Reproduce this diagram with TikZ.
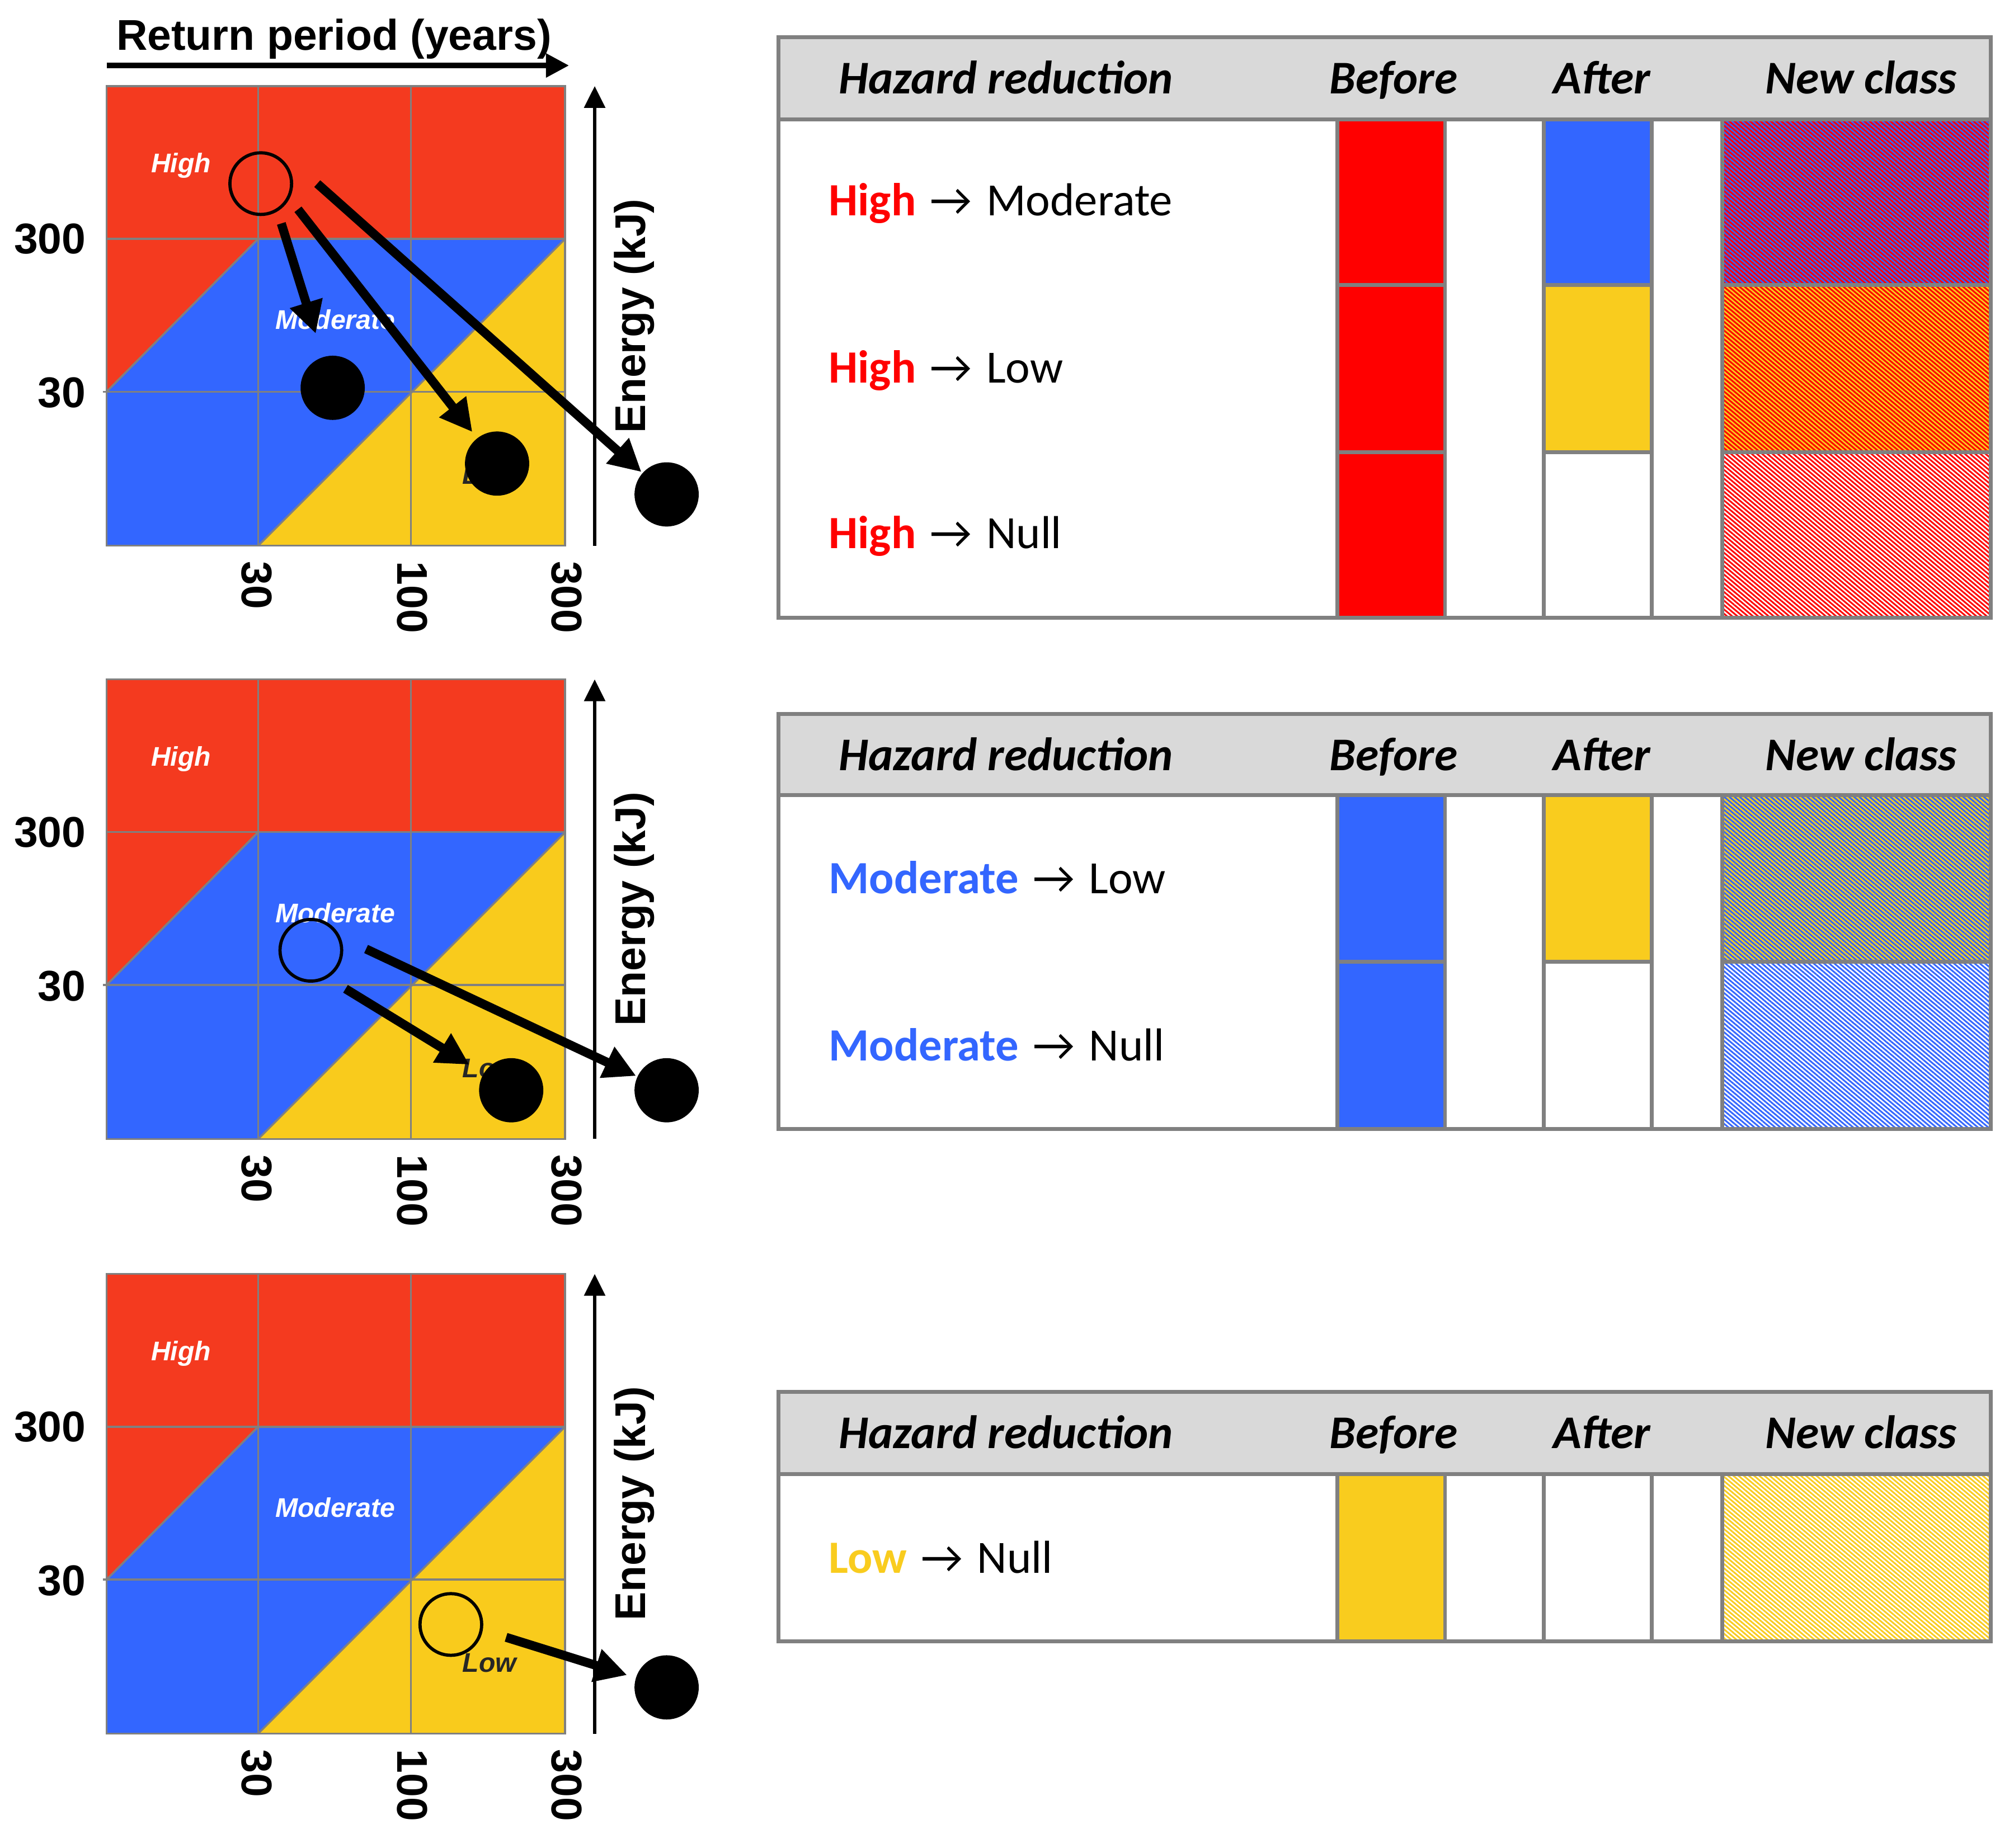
\documentclass[tikz,border=0pt]{standalone}
\usepackage{fontspec}
\setmainfont{Carlito}
\newfontfamily\arialf{Liberation Sans}
\usetikzlibrary{arrows.meta,patterns.meta}
\definecolor{chred}{RGB}{244,58,31}
\definecolor{chblue}{RGB}{51,102,255}
\definecolor{chyel}{RGB}{249,203,28}
\definecolor{tred}{RGB}{255,0,0}
\definecolor{tblue}{RGB}{51,102,255}
\definecolor{tyel}{RGB}{249,204,30}
\definecolor{hdrgray}{RGB}{217,217,217}
\definecolor{bordgray}{RGB}{128,128,128}
\newcommand{\harr}{\hspace{3pt} → \hspace{3pt}}
\tikzset{
  gridln/.style={draw=bordgray, line width=1.5pt},
  chlbl/.style={font=\arialf\bfseries\itshape\fontsize{21}{25}\selectfont, text=white, inner sep=0pt},
  lowlbl/.style={font=\arialf\bfseries\itshape\fontsize{21}{25}\selectfont, text=black!85, inner sep=0pt},
  axnum/.style={font=\arialf\bfseries\fontsize{33.5}{40}\selectfont, inner sep=0pt},
  axarr/.style={line width=3pt, -{Triangle[length=17pt,width=16pt]}},
  toparr/.style={line width=4pt, -{Triangle[length=18pt,width=18pt]}},
  ring/.style={circle, draw=black, line width=2.5pt, minimum size=48pt, inner sep=0pt},
  blackdot/.style={circle, fill=black, minimum size=50pt, inner sep=0pt},
  bigarr/.style={line width=7pt, -{Triangle[length=25pt,width=25pt]}},
  tline/.style={draw=bordgray, line width=3pt},
  hatch/.style={pattern={Lines[angle=-40,distance=2.6pt,line width=1.3pt]}},
  hdrtxt/.style={font=\bfseries\itshape\fontsize{36.5}{44}\selectfont, inner sep=0pt, anchor=base},
  rowtxt/.style={font=\fontsize{36}{43}\selectfont, inner sep=0pt, anchor=base west}
}
\newcommand{\hzchart}[1]{%
  \fill[chred] (83,67) rectangle (440,186);
  \fill[chred] (83,186) -- (201,186) -- (83,305) -- cycle;
  \fill[chblue] (83,305) -- (201,186) -- (440,186) -- (201,425) -- (83,425) -- cycle;
  \fill[chyel] (201,425) -- (440,186) -- (440,425) -- cycle;
  \draw[gridln] (83,67) rectangle (440,425);
  \draw[gridln] (201,67) -- (201,425) (320,67) -- (320,425);
  \draw[gridln] (83,186) -- (440,186) (80,305) -- (440,305);
  \draw[gridln] (83,305) -- (201,186) (201,425) -- (440,186);
  \node[chlbl] (#1hi) at (141,129) {High};
  \node[chlbl] (#1mo) at (261,249) {Moderate};
  \node[lowlbl] (#1lo) at (381,370) {Low};
  \node[axnum, anchor=east] (#1y300) at (67,186) {300};
  \node[axnum, anchor=east] (#1y30) at (67,306) {30};
  \node[axnum, rotate=-90, anchor=west] (#1x30) at (200,437) {30};
  \node[axnum, rotate=-90, anchor=west] (#1x100) at (321,437) {100};
  \node[axnum, rotate=-90, anchor=west] (#1x300) at (441,437) {300};
  \coordinate (#1eb) at (463,425);
  \coordinate (#1et) at (463,67);
  \draw[axarr] (#1eb) -- (#1et);
  \node[axnum, rotate=90] (#1en) at (494,246) {Energy (kJ)};
}
\begin{document}
\begin{tikzpicture}[x=1pt,y=-1pt]
\useasboundingbox (0,0) rectangle (1568,1439);
\fill[white] (0,0) rectangle (1568,1439);

% ---------------- chart 1
\node[axnum, anchor=base] (rp) at (260,39) {Return period (years)};
\coordinate (rpl) at (83,51);
\coordinate (rpr) at (443,51);
\draw[toparr] (rpl) -- (rpr);
\begin{scope}
  \hzchart{a}
  \node[ring] (asrc) at (203,143) {};
  \node[blackdot] (ad1) at (259,302) {};
  \node[blackdot] (ad2) at (387,361) {};
  \node[blackdot] (ad3) at (519,385) {};
  \coordinate (aa1) at (219,174);
  \coordinate (aa2) at (232,163);
  \coordinate (aa3) at (247,143);
  \draw[bigarr, shorten >=19pt] (aa1) -- (ad1);
  \draw[bigarr, shorten >=6pt] (aa2) -- (ad2);
  \draw[bigarr, shorten >=1pt] (aa3) -- (ad3);
\end{scope}

% ---------------- chart 2
\begin{scope}[shift={(0,462)}]
  \hzchart{b}
  \node[ring] (bsrc) at (242,278) {};
  \node[blackdot] (bd1) at (398,387) {};
  \node[blackdot] (bd2) at (519,387) {};
  \coordinate (ba1) at (269,308);
  \coordinate (ba2) at (285,277);
  \draw[bigarr, shorten >=13pt] (ba1) -- (bd1);
  \draw[bigarr, shorten >=1pt] (ba2) -- (bd2);
\end{scope}

% ---------------- chart 3
\begin{scope}[shift={(0,925)}]
  \hzchart{c}
  \node[ring] (csrc) at (351,340) {};
  \node[blackdot] (cd1) at (519,389) {};
  \coordinate (ca1) at (394,350);
  \draw[bigarr, shorten >=7pt] (ca1) -- (cd1);
\end{scope}

% ---------------- table 1
\fill[hdrgray] (606,29) rectangle (1550,93);
\fill[tred] (1041,93) rectangle (1125,481);
\fill[tblue] (1202,93) rectangle (1286,222);
\fill[tyel] (1202,222) rectangle (1286,352);
\fill[tblue] (1341,93) rectangle (1550,222);
\fill[hatch, pattern color=tred] (1341,93) rectangle (1550,222);
\fill[tyel] (1341,222) rectangle (1550,352);
\fill[hatch, pattern color=tred] (1341,222) rectangle (1550,352);
\fill[hatch, pattern color=tred] (1341,352) rectangle (1550,481);
\draw[tline] (1041,93) -- (1041,481) (1125,93) -- (1125,481)
             (1202,93) -- (1202,481) (1286,93) -- (1286,481) (1341,93) -- (1341,481);
\draw[tline] (1041,222) -- (1125,222) (1202,222) -- (1286,222) (1341,222) -- (1550,222);
\draw[tline] (1041,352) -- (1125,352) (1202,352) -- (1286,352) (1341,352) -- (1550,352);
\draw[tline] (606,29) rectangle (1550,481);
\draw[tline] (606,93) -- (1550,93);
\node[hdrtxt, anchor=base west] (t1h1) at (653,73) {Hazard reduction};
\node[hdrtxt] (t1h2) at (1085,73) {Before};
\node[hdrtxt] (t1h3) at (1247,73) {After};
\node[hdrtxt] (t1h4) at (1449,73) {New class};
\node[rowtxt] (t1r1) at (645,168) {\textcolor{tred}{\bfseries High}\harr{}Moderate};
\node[rowtxt] (t1r2) at (645,298) {\textcolor{tred}{\bfseries High}\harr{}Low};
\node[rowtxt] (t1r3) at (645,427) {\textcolor{tred}{\bfseries High}\harr{}Null};

% ---------------- table 2
\fill[hdrgray] (606,556) rectangle (1550,619);
\fill[tblue] (1041,619) rectangle (1125,879);
\fill[tyel] (1202,619) rectangle (1286,749);
\fill[tyel] (1341,619) rectangle (1550,749);
\fill[hatch, pattern color=tblue] (1341,619) rectangle (1550,749);
\fill[hatch, pattern color=tblue] (1341,749) rectangle (1550,879);
\draw[tline] (1041,619) -- (1041,879) (1125,619) -- (1125,879)
             (1202,619) -- (1202,879) (1286,619) -- (1286,879) (1341,619) -- (1341,879);
\draw[tline] (1041,749) -- (1125,749) (1202,749) -- (1286,749) (1341,749) -- (1550,749);
\draw[tline] (606,556) rectangle (1550,879);
\draw[tline] (606,619) -- (1550,619);
\node[hdrtxt, anchor=base west] (t2h1) at (653,600) {Hazard reduction};
\node[hdrtxt] (t2h2) at (1085,600) {Before};
\node[hdrtxt] (t2h3) at (1247,600) {After};
\node[hdrtxt] (t2h4) at (1449,600) {New class};
\node[rowtxt] (t2r1) at (645,696) {\textcolor{tblue}{\bfseries Moderate}\harr{}Low};
\node[rowtxt] (t2r2) at (645,826) {\textcolor{tblue}{\bfseries Moderate}\harr{}Null};

% ---------------- table 3
\fill[hdrgray] (606,1084) rectangle (1550,1148);
\fill[tyel] (1041,1148) rectangle (1125,1278);
\fill[hatch, pattern color=tyel] (1341,1148) rectangle (1550,1278);
\draw[tline] (1041,1148) -- (1041,1278) (1125,1148) -- (1125,1278)
             (1202,1148) -- (1202,1278) (1286,1148) -- (1286,1278) (1341,1148) -- (1341,1278);
\draw[tline] (606,1084) rectangle (1550,1278);
\draw[tline] (606,1148) -- (1550,1148);
\node[hdrtxt, anchor=base west] (t3h1) at (653,1128) {Hazard reduction};
\node[hdrtxt] (t3h2) at (1085,1128) {Before};
\node[hdrtxt] (t3h3) at (1247,1128) {After};
\node[hdrtxt] (t3h4) at (1449,1128) {New class};
\node[rowtxt] (t3r1) at (645,1225) {\textcolor{tyel}{\bfseries Low}\harr{}Null};
\end{tikzpicture}
\end{document}
